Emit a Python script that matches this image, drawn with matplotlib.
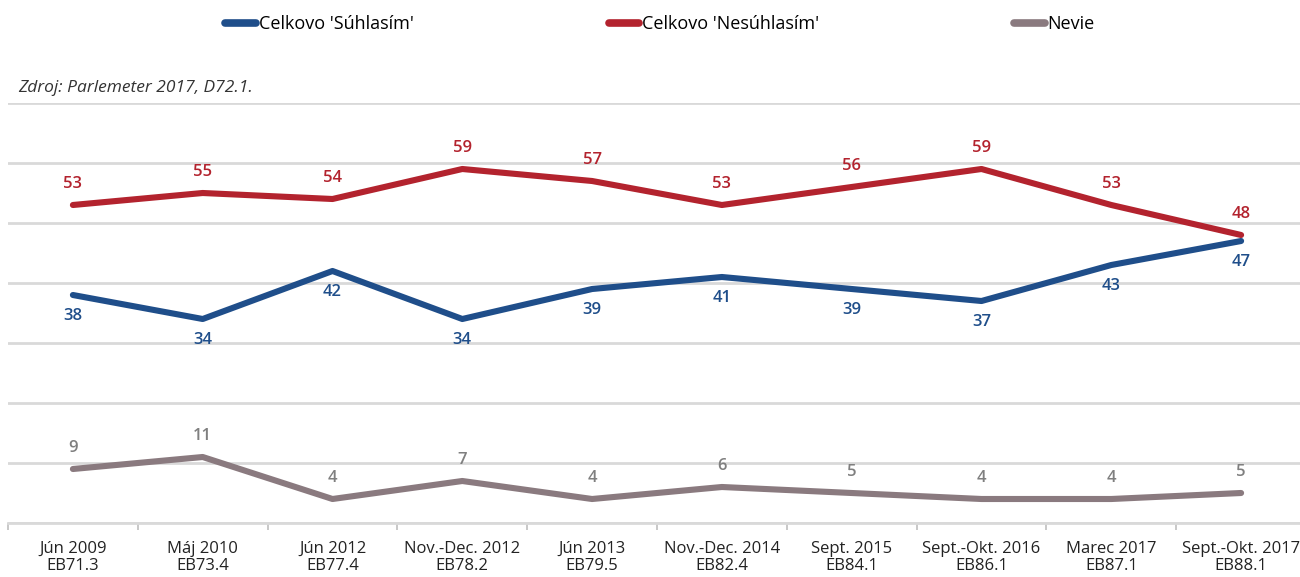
import matplotlib.pyplot as plt
from matplotlib.lines import Line2D

# Data
periods = ['Jún 2009\nEB71.3', 'Máj 2010\nEB73.4', 'Jún 2012\nEB77.4', 'Nov.-Dec. 2012\nEB78.2',
           'Jún 2013\nEB79.5', 'Nov.-Dec. 2014\nEB82.4', 'Sept. 2015\nEB84.1',
           'Sept.-Okt. 2016\nEB86.1', 'Marec 2017\nEB87.1', 'Sept.-Okt. 2017\nEB88.1']
agree = [38, 34, 42, 34, 39, 41, 39, 37, 43, 47]
disagree = [53, 55, 54, 59, 57, 53, 56, 59, 53, 48]
dont_know = [9, 11, 4, 7, 4, 6, 5, 4, 4, 5]

blue = '#1f4e8a'
red = '#b3232e'
mauve = '#8a7a7f'
grid_col = '#d9d9d9'

plt.rcParams['font.family'] = ['Open Sans', 'DejaVu Sans']

fig = plt.figure(figsize=(13, 5.77), dpi=100)
# axes runs a bit past the right edge, like the reference
ax = fig.add_axes([8 / 1300, 54 / 577, 1298 / 1300, 420 / 577])

x = list(range(len(periods)))
lw = 4.4
ax.plot(x, disagree, color=red, lw=lw, solid_capstyle='round', solid_joinstyle='round', zorder=3)
ax.plot(x, agree, color=blue, lw=lw, solid_capstyle='round', solid_joinstyle='round', zorder=3)
ax.plot(x, dont_know, color=mauve, lw=lw, solid_capstyle='round', solid_joinstyle='round', zorder=3)

for xi, v in zip(x, disagree):
    ax.annotate(str(v), (xi, v), xytext=(0, 9), textcoords='offset points',
                ha='center', va='bottom', color=red, fontsize=12, fontweight='semibold')
for xi, v in zip(x, agree):
    ax.annotate(str(v), (xi, v), xytext=(0, -9), textcoords='offset points',
                ha='center', va='top', color=blue, fontsize=12, fontweight='semibold')
for xi, v in zip(x, dont_know):
    ax.annotate(str(v), (xi, v), xytext=(0, 9), textcoords='offset points',
                ha='center', va='bottom', color='#7f7f7f', fontsize=12, fontweight='semibold')

ax.set_xlim(-0.5, len(periods) - 0.5)
ax.set_ylim(0, 70)
ax.set_yticks(range(0, 71, 10))
ax.yaxis.grid(True, color=grid_col, lw=2)
ax.set_axisbelow(True)
ax.tick_params(axis='y', left=False, labelleft=False)
for s in ['top', 'right', 'left']:
    ax.spines[s].set_visible(False)
ax.spines['bottom'].set_color(grid_col)
ax.spines['bottom'].set_linewidth(2)

ax.set_xticks(x)
ax.set_xticklabels(periods, fontsize=12, color='#222222', linespacing=1.1)
ax.tick_params(axis='x', length=0, pad=13)
ax.set_xticks([i - 0.5 for i in range(len(periods) + 1)], minor=True)
ax.tick_params(axis='x', which='minor', length=5, width=1.2, color='#bfbfbf')

fig.text(18 / 1300, 1 - 88 / 577, 'Zdroj: Parlemeter 2017, D72.1.', fontsize=12.5,
         style='italic', color='#333333', va='center')

handles = [Line2D([], [], color=blue, lw=5.5, solid_capstyle='round'),
           Line2D([], [], color=red, lw=5.5, solid_capstyle='round'),
           Line2D([], [], color=mauve, lw=5.5, solid_capstyle='round')]
labels = ["Celkovo 'Súhlasím'", "Celkovo 'Nesúhlasím'", 'Nevie']
fig.legend(handles, labels, loc='center', bbox_to_anchor=(660 / 1300, 1 - 24 / 577),
           ncol=3, frameon=False, fontsize=13, handlelength=1.7, handletextpad=0.15,
           columnspacing=10.8)

fig.savefig('out.png', dpi=100)
